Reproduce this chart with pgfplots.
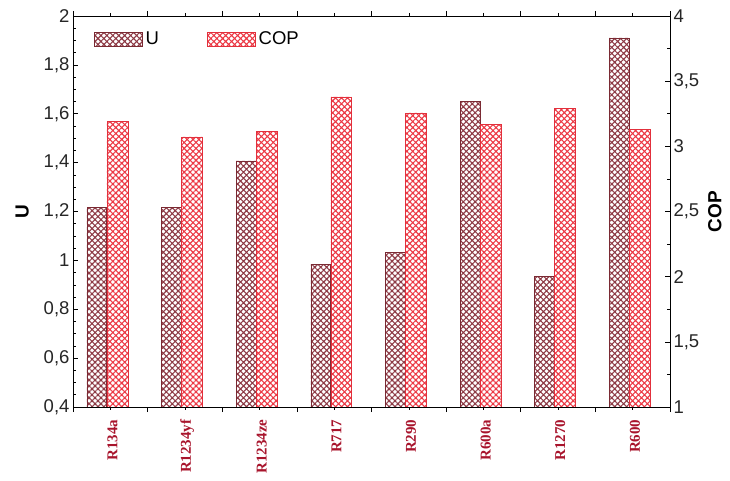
\documentclass[border=0pt]{standalone}
\usepackage{fontspec}
\setmainfont{Liberation Sans}
\newfontfamily\catfont{Liberation Serif}
\usepackage{pgfplots}
\usepackage{pgfplotstable}
\pgfplotsset{compat=1.18}
\usetikzlibrary{patterns.meta}

\definecolor{uline}{HTML}{7A2A33}
\definecolor{ufill}{HTML}{8E3B46}
\definecolor{copline}{HTML}{E2303C}
\definecolor{copfill}{HTML}{EC3A46}
\definecolor{catred}{HTML}{A8142C}

% U and COP per refrigerant; U bars sit left of COP bars in each group
\pgfplotstableread{
x     U      COP
0     1.218  3.194
1     1.218  3.072
2     1.407  3.115
3     0.985  3.379
4     1.034  3.256
5     1.652  3.171
6     0.936  3.294
7     1.910  3.128
}\datatable

\pgfplotsset{
  common/.style={
    scale only axis,
    width=597pt, height=391pt,
    xmin=0, xmax=8,
    /pgf/number format/assume math mode=true,
    /pgf/number format/use comma,
    tick label style={font=\fontsize{18.5}{20}\selectfont, text=black!85},
    label style={font=\bfseries\fontsize{19}{21}\selectfont},
    axis line style={line width=0.9pt},
    major tick length=5pt, minor tick length=3pt,
    tick style={black, line width=0.6pt},
  },
  ubar/.style={draw=uline, line width=0.6pt,
    pattern={Hatch[angle=45,distance=4.2pt,line width=1.1pt]}, pattern color=ufill},
  copbar/.style={draw=copline, line width=0.6pt,
    pattern={Hatch[angle=45,distance=4.2pt,line width=1.1pt]}, pattern color=copfill},
}

\begin{document}
\begin{tikzpicture}
\useasboundingbox (-73pt,-74pt) rectangle (657pt,407pt);

\begin{axis}[
  common,
  ymin=0.4, ymax=2,
  ytick={0.4,0.6,...,2.01},
  minor y tick num=3,
  ytick pos=left,
  xtick={0,...,8}, xticklabels={},
  minor x tick num=1,
  extra x ticks={0.53,1.53,2.53,3.53,4.53,5.53,6.53,7.53},
  extra x tick labels={R134a,R1234yf,R1234ze,R717,R290,R600a,R1270,R600},
  extra x tick style={major tick length=0pt,
    xticklabel style={rotate=90, anchor=east, text=catred,
      font=\catfont\bfseries\fontsize{15}{15}\selectfont, xshift=-9pt}},
  ylabel={U},
  ylabel style={at={(axis description cs:-0.085,0.5)}, anchor=center},
  ybar, bar width=0.265,
]
\addplot[ubar, bar shift=0pt] table[x expr=\thisrow{x}+0.32, y=U] {\datatable};
\end{axis}

\begin{axis}[
  common,
  ymin=1, ymax=4,
  ytick={1,1.5,...,4.01},
  minor y tick num=1,
  axis x line=none,
  axis y line*=right,
  ylabel={COP},
  ylabel style={at={(axis description cs:1.075,0.5)}, anchor=center, rotate=0},
  ybar, bar width=0.28,
  legend style={draw=none, fill=none, at={(axis description cs:0.035,0.965)},
    anchor=north west, legend columns=2, inner sep=0pt,
    font=\fontsize{18.5}{20}\selectfont,
    /tikz/every odd column/.append style={column sep=1pt},
    /tikz/every even column/.append style={column sep=46pt}},
  legend image code/.code={\draw[#1] (0pt,-7pt) rectangle (48pt,7pt);},
]
\addlegendimage{ubar}
\addlegendentry{U}
\addplot[copbar, bar shift=0pt] table[x expr=\thisrow{x}+0.595, y=COP] {\datatable};
\addlegendentry{COP}
\end{axis}
\end{tikzpicture}
\end{document}
